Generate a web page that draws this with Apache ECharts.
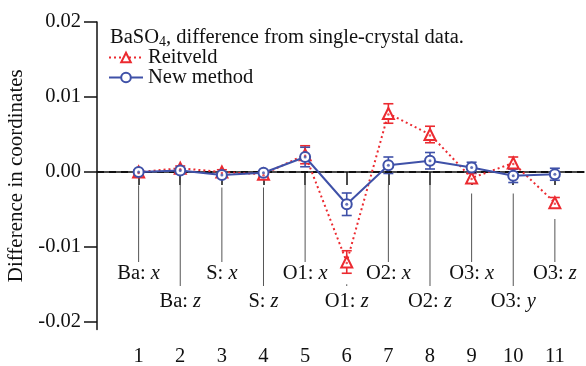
<!DOCTYPE html>
<html>
<head>
<meta charset="utf-8">
<script src="https://cdn.jsdelivr.net/npm/echarts@6/dist/echarts.min.js"></script>
<style>
  html, body { margin: 0; padding: 0; background: #fff; }
  #chart { width: 586px; height: 366px; }
</style>
</head>
<body>
<div id="chart"></div>
<script>
// coordinate index (x axis) and the atom/axis label under each point
const positions = [1, 2, 3, 4, 5, 6, 7, 8, 9, 10, 11]
const atoms = ['Ba', 'Ba', 'S', 'S', 'O1', 'O1', 'O2', 'O2', 'O3', 'O3', 'O3']
const axesLetters = ['x', 'z', 'x', 'z', 'x', 'z', 'x', 'z', 'x', 'y', 'z']

// Reitveld refinement: difference and error
const reitveld = [0.0000, 0.0005, 0.0000, -0.0003, 0.0023, -0.0120, 0.0078, 0.0050, -0.0008, 0.0012, -0.0041]
const reitveldErr = [0.0003, 0.0003, 0.0003, 0.0003, 0.0012, 0.0015, 0.0013, 0.0011, 0.0006, 0.0008, 0.0007]

// New method: difference and error
const newMethod = [0.0000, 0.0002, -0.0004, -0.0001, 0.0020, -0.0043, 0.0009, 0.0015, 0.0006, -0.0005, -0.0003]
const newMethodErr = [0.0002, 0.0002, 0.0002, 0.0002, 0.0013, 0.0015, 0.0011, 0.0011, 0.0007, 0.0009, 0.0008]

const yTicks = [-0.02, -0.01, 0, 0.01, 0.02]

const RED = '#ec2a30'
const BLUE = '#3f51a8'
const FONT = 'Liberation Serif, Times New Roman, serif'
const FS = 20.5

const chart = echarts.init(document.getElementById('chart'))

const errData = (vals, errs) => positions.map((x, i) => [x, vals[i], errs[i]])

const errSeries = (name, vals, errs, color) => ({
  type: 'custom',
  name,
  z: 4,
  silent: true,
  data: errData(vals, errs),
  renderItem: (params, api) => {
    const x = api.value(0), v = api.value(1), e = api.value(2)
    const hi = api.coord([x, v + e])
    const lo = api.coord([x, v - e])
    const w = 5
    const st = { stroke: color, lineWidth: 1.6 }
    return {
      type: 'group',
      children: [
        { type: 'line', shape: { x1: hi[0], y1: hi[1], x2: lo[0], y2: lo[1] }, style: st },
        { type: 'line', shape: { x1: hi[0] - w, y1: hi[1], x2: hi[0] + w, y2: hi[1] }, style: st },
        { type: 'line', shape: { x1: lo[0] - w, y1: lo[1], x2: lo[0] + w, y2: lo[1] }, style: st }
      ]
    }
  }
})

// leader lines and labels under each coordinate
const leaderData = positions.map((x, i) => [
  x,
  Math.min(reitveld[i] - reitveldErr[i], newMethod[i] - newMethodErr[i]),
  i
])

const option = {
  animation: false,
  backgroundColor: '#fff',
  title: {
    text: 'BaSO{s|4}, difference from single-crystal data.',
    left: 105,
    top: 21,
    textStyle: {
      fontFamily: FONT, fontSize: FS, fontWeight: 'normal', color: '#111',
      rich: { s: { fontFamily: FONT, fontSize: 14, verticalAlign: 'bottom', padding: [9, 0, 0, 0], color: '#111' } }
    }
  },
  legend: {
    orient: 'vertical',
    left: 108,
    top: 47,
    padding: 0,
    itemWidth: 34,
    itemHeight: 12,
    itemGap: -1,
    data: ['Reitveld', 'New method'],
    textStyle: { fontFamily: FONT, fontSize: FS, color: '#111' }
  },
  grid: { left: 97, right: 2, top: 22, bottom: 36.5, outerBoundsMode: 'none' },
  xAxis: {
    type: 'value',
    min: 0,
    max: 11.7,
    axisLine: { show: true, lineStyle: { color: '#111', width: 1.5 } },
    axisTick: { show: true, length: 13, customValues: positions, lineStyle: { color: '#111', width: 1.5 } },
    axisLabel: { customValues: positions, margin: 17, fontFamily: FONT, fontSize: FS, color: '#111' },
    splitLine: { show: false }
  },
  yAxis: {
    type: 'value',
    min: -0.021,
    max: 0.02,
    name: 'Difference in coordinates',
    nameLocation: 'middle',
    nameGap: 53,
    nameTextStyle: { fontFamily: FONT, fontSize: 21, color: '#111' },
    axisLine: { show: true, lineStyle: { color: '#111', width: 1.5 } },
    axisTick: { show: true, length: 13, customValues: yTicks, lineStyle: { color: '#111', width: 1.5 } },
    axisLabel: {
      customValues: yTicks, margin: 16, fontFamily: FONT, fontSize: FS, color: '#111',
      formatter: v => v.toFixed(2)
    },
    splitLine: { show: false }
  },
  series: [
    {
      type: 'custom',
      name: 'leaders',
      silent: true,
      z: 1,
      data: leaderData,
      renderItem: (params, api) => {
        const x = api.value(0), low = api.value(1), i = api.value(2)
        const top = api.coord([x, low])
        const odd = i % 2 === 0
        const endY = api.coord([x, odd ? -0.012 : -0.0152])[1]
        const textY = api.coord([x, odd ? -0.0135 : -0.0173])[1]
        return {
          type: 'group',
          children: [
            { type: 'line', shape: { x1: top[0], y1: top[1] + 11, x2: top[0], y2: endY }, style: { stroke: '#555', lineWidth: 1 } },
            {
              type: 'text',
              x: top[0],
              y: textY,
              style: {
                text: '{a|' + atoms[i] + ': }{b|' + axesLetters[i] + '}',
                align: 'center',
                verticalAlign: 'middle',
                rich: {
                  a: { fontFamily: FONT, fontSize: FS, fill: '#111' },
                  b: { fontFamily: FONT, fontSize: FS, fontStyle: 'italic', fill: '#111' }
                }
              }
            }
          ]
        }
      }
    },
    {
      type: 'line',
      name: 'zero',
      silent: true,
      data: [],
      markLine: {
        silent: true,
        symbol: 'none',
        label: { show: false },
        lineStyle: { color: '#111', type: [7, 5], width: 1.8 },
        data: [{ yAxis: 0 }]
      }
    },
    errSeries('redErr', reitveld, reitveldErr, RED),
    errSeries('blueErr', newMethod, newMethodErr, BLUE),
    {
      type: 'line',
      name: 'Reitveld',
      z: 5,
      data: positions.map((x, i) => [x, reitveld[i]]),
      symbol: 'emptyTriangle',
      symbolSize: 11,
      color: RED,
      lineStyle: { color: RED, width: 2, type: [2, 3] },
      itemStyle: { color: RED, borderColor: RED, borderWidth: 1.6 }
    },
    {
      type: 'line',
      name: 'New method',
      z: 6,
      data: positions.map((x, i) => [x, newMethod[i]]),
      symbol: 'emptyCircle',
      symbolSize: 10,
      color: BLUE,
      lineStyle: { color: BLUE, width: 2 },
      itemStyle: { color: BLUE, borderColor: BLUE, borderWidth: 1.6 }
    },
    {
      type: 'scatter',
      name: 'redDots',
      z: 7,
      silent: true,
      symbolSize: 2.5,
      symbolOffset: [0, 1],
      itemStyle: { color: RED },
      data: positions.map((x, i) => [x, reitveld[i]])
    },
    {
      type: 'scatter',
      name: 'blueDots',
      z: 8,
      silent: true,
      symbolSize: 3,
      itemStyle: { color: BLUE },
      data: positions.map((x, i) => [x, newMethod[i]])
    }
  ]
}

chart.setOption(option)
</script>
</body>
</html>
